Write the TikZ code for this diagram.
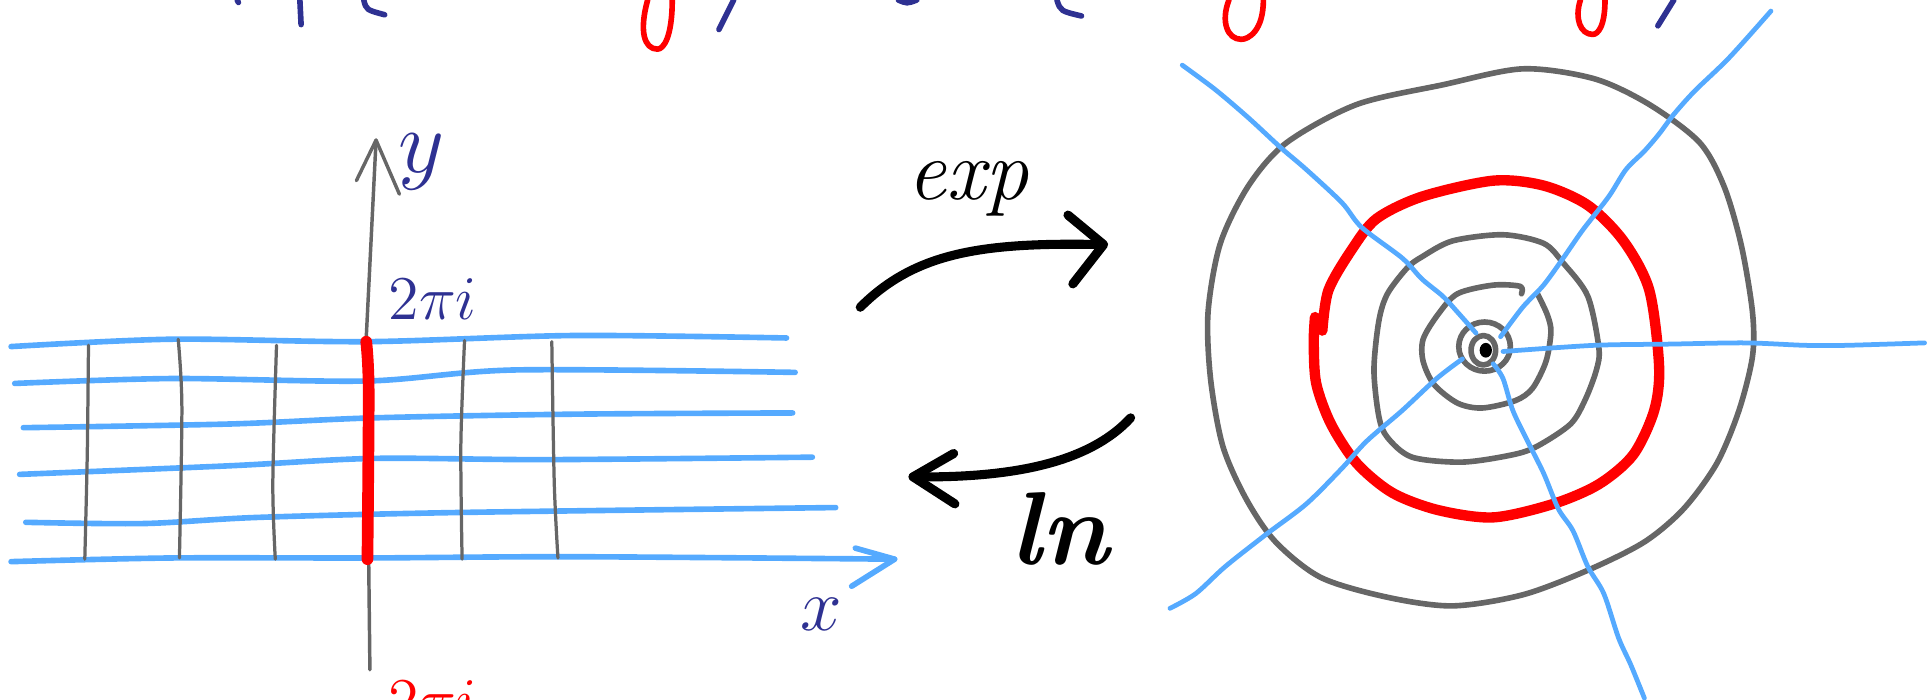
\documentclass[tikz,border=0pt]{standalone}
\usepackage{fontspec}
\usepackage{amsmath}
\usepackage{tikz}
\usepackage{xcolor}
\usetikzlibrary{arrows.meta}
\definecolor{Ink_Blue}{HTML}{2E3192}
\definecolor{Grid_Blue}{HTML}{55AAFF}
\definecolor{Grid_Gray}{HTML}{666666}
\definecolor{Pen_Red}{HTML}{FF0000}

\begin{document}
\begin{tikzpicture}[x=0.01cm, y=-0.01cm, line cap=round, line join=round,
    bluegrid/.style={Grid_Blue, line width=1.3pt},
    graygrid/.style={Grid_Gray, line width=0.75pt},
    ring/.style={Grid_Gray, line width=1.3pt},
    ray/.style={Grid_Blue, line width=1.1pt},
    maparrow/.style={black, line width=2.1pt},
    topink/.style={line width=1.3pt}]
    \useasboundingbox (0,0) rectangle (1568,569);

    % Cut-off line of writing at the top
    \draw[topink, Ink_Blue] (193,0) -- (194,2);
    \draw[topink, Ink_Blue] (244,0) -- (245,20);
    \draw[topink, Ink_Blue] (296,0) .. controls (298,8) .. (313,12);
    \draw[topink, Pen_Red] (547,0) .. controls (547,30) and (540,40) .. (535,40)
        .. controls (524,40) and (520,25) .. (527,0);
    \draw[topink, Ink_Blue] (597,0) -- (585,24);
    \draw[topink, Ink_Blue] (731,0) .. controls (738,3) .. (746,0);
    \draw[topink, Ink_Blue] (860,0) .. controls (863,9) .. (880,13);
    \draw[topink, Pen_Red] (1028,0) .. controls (1028,25) and (1016,32) .. (1010,32)
        .. controls (999,32) and (993,18) .. (1000,0);
    \draw[topink, Pen_Red] (1306,0) .. controls (1306,22) and (1300,28) .. (1296,28)
        .. controls (1286,28) and (1281,15) .. (1286,0);
    \draw[topink, Ink_Blue] (1362,0) -- (1349,21);

    % Strip: horizontal lines
    \draw[bluegrid] plot[smooth] coordinates {(9,282) (140,276) (299,278) (467,273) (640,275)};
    \draw[bluegrid] plot[smooth] coordinates {(12,312) (140,308) (299,310) (420,301) (647,303)};
    \draw[bluegrid] plot[smooth] coordinates {(19,348) (187,345) (304,340) (467,337) (645,336)};
    \draw[bluegrid] plot[smooth] coordinates {(16,386) (187,379) (304,373) (444,374) (661,372)};
    \draw[bluegrid] plot[smooth] coordinates {(21,425) (117,426) (210,421) (374,417) (680,413)};
    \draw[bluegrid] plot[smooth] coordinates {(9,457) (140,454) (299,454) (467,453) (728,455)};
    \draw[bluegrid] (696,446) -- (728,455) -- (693,477);

    % Strip: vertical lines
    \draw[graygrid] plot[smooth] coordinates {(72,281) (71,370) (69,455)};
    \draw[graygrid] plot[smooth] coordinates {(145,276) (148,331) (146,454)};
    \draw[graygrid] plot[smooth] coordinates {(225,281) (222,393) (224,455)};
    \draw[graygrid] plot[smooth] coordinates {(378,277) (375,362) (376,455)};
    \draw[graygrid] plot[smooth] coordinates {(449,278) (451,393) (454,454)};

    % Imaginary axis
    \draw[graygrid, line width=0.8pt] (301,545) -- (298,275) -- (306,114);
    \draw[graygrid, line width=0.8pt] (290,147) -- (306,114) -- (325,158);
    \draw[Pen_Red, line width=2.7pt] plot[smooth] coordinates {(298,278) (300,318) (299,455)};

    % Labels of the strip
    \node[Ink_Blue, font=\fontsize{22}{24}\selectfont] (ylab) at (343,132) {$y$};
    \node[Ink_Blue, font=\fontsize{15}{18}\selectfont] (toplab) at (352,243) {$2\pi i$};
    \node[Ink_Blue, font=\fontsize{18}{20}\selectfont] (xlab) at (668,500) {$x$};
    \node[Pen_Red, font=\fontsize{15}{18}\selectfont, anchor=north, inner sep=0pt] (botlab) at (352,553) {$2\pi i$};

    % Maps
    \draw[maparrow] (700,250) .. controls (745,205) and (800,197) .. (897,199);
    \draw[maparrow] (869,175) -- (898,199) -- (873,231);
    \node[font=\fontsize{20}{22}\selectfont\itshape] (explab) at (788,154) {exp};
    \draw[maparrow] (920,340) .. controls (885,378) and (820,389) .. (743,388);
    \draw[maparrow] (776,369) -- (743,388) -- (777,410);
    \node[font=\fontsize{24}{26}\selectfont\bfseries\itshape] (lnlab) at (862,430) {ln};

    % Plane: circles
    \draw[ring] plot[smooth cycle] coordinates {(1239,56) (1297,64) (1342,85) (1383,116)
        (1403,152) (1417,200) (1426,254) (1426,290) (1415,334) (1397,377) (1370,414)
        (1338,441) (1292,464) (1239,484) (1182,493) (1129,486) (1075,470) (1038,441)
        (1014,406) (995,363) (985,308) (983,254) (993,198) (1016,151) (1047,116)
        (1104,85) (1174,69)};
    \draw[ring] plot[smooth cycle] coordinates {(1223,191) (1256,198) (1272,214) (1292,241)
        (1301,283) (1299,301) (1290,325) (1278,345) (1251,363) (1231,370) (1190,376)
        (1149,372) (1129,356) (1122,339) (1118,301) (1122,261) (1129,239) (1145,218)
        (1157,209) (1182,196)};
    \draw[ring] plot[smooth] coordinates {(1238,239) (1237,233) (1215,232) (1186,239)
        (1170,256) (1158,276) (1158,294) (1167,313) (1186,328) (1206,332) (1233,326)
        (1247,316) (1258,294) (1262,270) (1259,256) (1251,239)};
    \draw[ring] (1208,282) ellipse (21 and 20);
    \draw[ring] (1207,285) ellipse (10 and 12);
    \fill[black] (1209,285) ellipse (5 and 6);
    \draw[Pen_Red, line width=2.4pt] plot[smooth] coordinates {(1070,258) (1069,279) (1071,312)
        (1083,345) (1104,377) (1133,401) (1170,415) (1215,421) (1264,410) (1301,394)
        (1329,370) (1346,334) (1350,298) (1342,236) (1321,196) (1292,167) (1256,151)
        (1215,147) (1157,160) (1120,178) (1100,203) (1081,236) (1076,269)};

    % Plane: rays
    \draw[ray] plot[smooth] coordinates {(962,53) (989,73) (1016,96) (1042,120) (1063,138)
        (1092,165) (1108,185) (1141,210) (1157,227) (1174,241) (1186,254) (1201,271)};
    \draw[ray] plot[smooth] coordinates {(1221,274) (1239,250) (1256,232) (1272,210)
        (1288,187) (1309,160) (1323,138) (1338,123) (1350,109) (1362,93) (1379,74)
        (1407,47) (1441,9)};
    \draw[ray] plot[smooth] coordinates {(1223,286) (1297,281) (1358,280) (1420,279)
        (1469,281) (1502,281) (1566,279)};
    \draw[ray] plot[smooth] coordinates {(1215,296) (1223,308) (1231,334) (1243,359)
        (1256,385) (1268,414) (1280,432) (1292,461) (1305,483) (1317,519) (1327,541)
        (1338,568)};
    \draw[ray] plot[smooth] coordinates {(1190,292) (1169,308) (1141,334) (1112,359)
        (1092,381) (1063,410) (1030,435) (997,461) (973,483) (952,495)};
\end{tikzpicture}
\end{document}
